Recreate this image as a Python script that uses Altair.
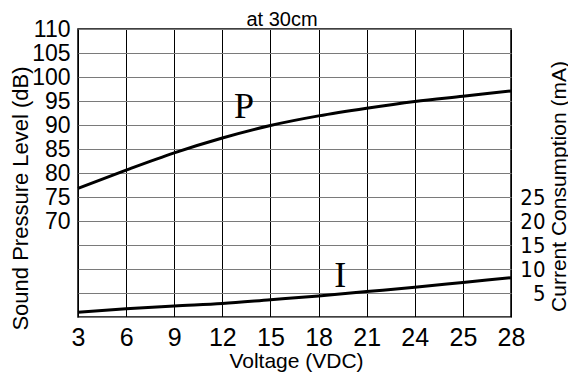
import altair as alt
import pandas as pd

voltage_labels = ["3", "6", "9", "12", "15", "18", "21", "24", "25", "28"]
spl_db = [76.8, 80.6, 84.2, 87.3, 89.9, 91.9, 93.5, 94.9, 96.0, 97.1]
current_ma = [1.0, 1.7, 2.3, 2.8, 3.6, 4.4, 5.3, 6.2, 7.2, 8.2]

chart_title = "at 30cm"
p_label = {"idx": 3.45, "spl": 93.75, "text": "P"}
i_label = {"idx": 5.45, "cur": 8.6, "text": "I"}

idx = list(range(len(voltage_labels)))
df = pd.DataFrame({"idx": idx, "spl": spl_db, "cur": current_ma})
df_p = pd.DataFrame([p_label])
df_i = pd.DataFrame([i_label])
df_t = pd.DataFrame({"text": [chart_title]})

label_js = "[" + ",".join("'" + v + "'" for v in voltage_labels) + "]"

FONT = "Liberation Sans"

x_scale = alt.Scale(domain=[0, len(voltage_labels) - 1], nice=False, zero=False)
left_scale = alt.Scale(domain=[50, 110], nice=False, zero=False)
right_scale = alt.Scale(domain=[0, 60], nice=False, zero=False)

x_axis = alt.Axis(
    values=idx,
    labelExpr=label_js + "[datum.value]",
    labelOverlap=False, labelFlush=False,
    grid=True, gridColor="#000000", gridWidth=1, gridOpacity=1,
    ticks=False, domain=False,
    labelFont=FONT, labelFontSize=25, labelColor="#000000", labelPadding=8,
    title="Voltage (VDC)", titleFont=FONT, titleFontSize=21, titleFontWeight="normal",
    titleColor="#000000", titleX=218, titleY=44, titleBaseline="middle",
    titleAlign="center", titleAnchor="middle",
)

left_axis = alt.Axis(
    orient="left",
    values=list(range(50, 111, 5)),
    labelExpr="datum.value >= 70 ? datum.label : ''",
    labelOverlap=False, labelFlush=False,
    grid=True, gridColor="#7a7a7a", gridWidth=1.2, gridOpacity=1,
    ticks=False, domain=False,
    labelFont=FONT, labelFontSize=23, labelColor="#000000", labelPadding=8,
    title="Sound Pressure Level (dB)", titleFont=FONT, titleFontSize=22,
    titleFontWeight="normal", titleColor="#000000",
    titleX=-58, titleY=169, titleAngle=270, titleBaseline="middle",
    titleAlign="center",
)

right_axis = alt.Axis(
    orient="right",
    values=[5, 10, 15, 20, 25],
    labelOverlap=False, labelFlush=False,
    grid=False, ticks=False, domain=False,
    labelFont="Liberation Sans Narrow, DejaVu Sans Condensed, Liberation Sans",
    labelFontSize=22, labelColor="#000000", labelPadding=34, labelAlign="right",
    title="Current Consumption (mA)", titleFont=FONT, titleFontSize=21,
    titleFontWeight="normal", titleColor="#000000",
    titleX=48, titleY=157, titleAngle=270, titleBaseline="middle",
    titleAlign="center",
)

def xe():
    return alt.X("idx:Q", scale=x_scale, axis=x_axis)

def ly():
    return alt.Y("spl:Q", scale=left_scale, axis=left_axis)

def ry():
    return alt.Y("cur:Q", scale=right_scale, axis=right_axis)

p_line = alt.Chart(df).mark_line(color="#000000", strokeWidth=3, interpolate="monotone").encode(
    x=xe(), y=ly()
)
p_text = alt.Chart(df_p).mark_text(
    font="Liberation Serif", fontSize=36, color="#000000", baseline="middle", align="center"
).encode(x=xe(), y=ly(), text="text:N")

title_text = alt.Chart(df_t).mark_text(
    font=FONT, fontSize=20, color="#000000", baseline="alphabetic", align="center"
).encode(x=alt.value(204), y=alt.value(-3), text="text:N")

i_line = alt.Chart(df).mark_line(color="#000000", strokeWidth=3, interpolate="monotone").encode(
    x=xe(), y=ry()
)
i_text = alt.Chart(df_i).mark_text(
    font="Liberation Serif", fontSize=36, color="#000000", baseline="middle", align="center"
).encode(x=xe(), y=ry(), text="text:N")

left_layer = alt.layer(p_line, p_text, title_text)
right_layer = alt.layer(i_line, i_text)

chart = alt.layer(left_layer, right_layer).resolve_scale(y="independent").properties(
    width=433,
    height=288,
    autosize=alt.AutoSizeParams(type="none"),
    padding={"left": 70, "top": 21, "right": 57, "bottom": 55},
).configure(
    background="#ffffff",
    view=alt.ViewConfig(stroke="#000000", strokeWidth=1.5),
    axis=alt.AxisConfig(labelOverlap=False),
)

chart.save("out.html", embed_options={"renderer": "svg", "actions": False})
